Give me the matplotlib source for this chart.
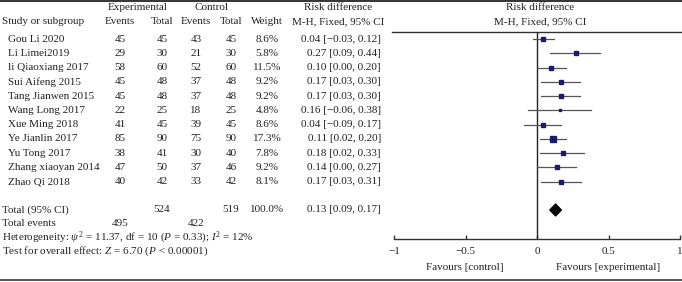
import matplotlib as mpl
import matplotlib.pyplot as plt
from matplotlib.patches import Polygon

mpl.rcParams['font.family'] = ['Liberation Serif', 'DejaVu Serif']
mpl.rcParams['mathtext.fontset'] = 'custom'
mpl.rcParams['mathtext.rm'] = 'Liberation Serif'
mpl.rcParams['mathtext.it'] = 'Liberation Serif:italic'

studies = ['Gou Li 2020', 'Li Limei2019', 'li Qiaoxiang 2017', 'Sui Aifeng 2015',
           'Tang Jianwen 2015', 'Wang Long 2017', 'Xue Ming 2018', 'Ye Jianlin 2017',
           'Yu Tong 2017', 'Zhang xiaoyan 2014', 'Zhao Qi 2018']
exp_events = [45, 29, 58, 45, 45, 22, 41, 85, 38, 47, 40]
exp_total = [45, 30, 60, 48, 48, 25, 45, 90, 41, 50, 42]
ctl_events = [43, 21, 52, 37, 37, 18, 39, 75, 30, 37, 33]
ctl_total = [45, 30, 60, 48, 48, 25, 45, 90, 40, 46, 42]
weights = [8.6, 5.8, 11.5, 9.2, 9.2, 4.8, 8.6, 17.3, 7.8, 9.2, 8.1]
rd = [0.04, 0.27, 0.10, 0.17, 0.17, 0.16, 0.04, 0.11, 0.18, 0.14, 0.17]
rd_lo = [-0.03, 0.09, 0.00, 0.03, 0.03, -0.06, -0.09, 0.02, 0.02, 0.00, 0.03]
rd_hi = [0.12, 0.44, 0.20, 0.30, 0.30, 0.38, 0.17, 0.20, 0.33, 0.27, 0.31]
total_rd, total_lo, total_hi = 0.13, 0.09, 0.17
tot_exp, tot_ctl = 524, 519
tot_exp_ev, tot_ctl_ev = 495, 422
xticks = [-1, -0.5, 0, 0.5, 1]
xticklabels = ['\u22121', '\u22120.5', '0', '0.5', '1']

W, H = 682, 282
fig = plt.figure(figsize=(W / 100, H / 100), dpi=100)
bg = fig.add_axes([0, 0, 1, 1])
bg.set_xlim(0, W)
bg.set_ylim(H, 0)
bg.axis('off')

fs = 8
tc = '#222222'

def txt(x, y, s, ha='center'):
    bg.text(x, y, s, ha=ha, va='center', fontsize=fs, color=tc)

# rules
bg.plot([0, W], [1.2, 1.2], color='#333333', lw=1.4)
bg.plot([0, W], [280, 280], color='#555555', lw=1.4)
bg.plot([392, W], [32, 32], color='#333333', lw=1.0)

# headers
txt(138, 8, 'Experimental')
txt(212, 8, 'Control')
txt(338, 8, 'Risk difference')
txt(540, 8, 'Risk difference')
txt(2, 22, 'Study or subgroup', ha='left')
txt(120, 22, 'Events')
txt(162, 22, 'Total')
txt(196, 22, 'Events')
txt(231, 22, 'Total')
txt(267, 22, 'Weight')
txt(338, 22, 'M-H, Fixed, 95% CI')
txt(540, 22, 'M-H, Fixed, 95% CI')

def fmt(v):
    return ('%.2f' % v).replace('-', '\u2212')

y0, step = 39, 14.27
rows = [y0 + i * step for i in range(len(studies))]
for i, y in enumerate(rows):
    txt(8, y, studies[i], ha='left')
    txt(120, y, str(exp_events[i]))
    txt(162, y, str(exp_total[i]))
    txt(196, y, str(ctl_events[i]))
    txt(231, y, str(ctl_total[i]))
    txt(267, y, '%.1f%%' % weights[i])
    txt(381, y, '%s [%s, %s]' % (fmt(rd[i]), fmt(rd_lo[i]), fmt(rd_hi[i])), ha='right')

yt = 210
txt(2, yt, 'Total (95% CI)', ha='left')
txt(162, yt, str(tot_exp))
txt(231, yt, str(tot_ctl))
txt(267, yt, '100.0%')
txt(381, yt, '%s [%s, %s]' % (fmt(total_rd), fmt(total_lo), fmt(total_hi)), ha='right')
txt(2, 223.5, 'Total events', ha='left')
txt(120, 223.5, str(tot_exp_ev))
txt(196, 223.5, str(tot_ctl_ev))
txt(2, 237.5, r'Heterogeneity: $\psi^2$ = 11.37, df = 10 ($P$ = 0.33); $I^2$ = 12%', ha='left')
txt(2, 251, r'Test for overall effect: $Z$ = 6.70 ($P$ < 0.00001)', ha='left')
txt(465, 268, 'Favours [control]')
txt(608, 268, 'Favours [experimental]')

# forest panel
ax_y0, ax_y1 = 239, 32
ax = fig.add_axes([394 / W, (H - ax_y0) / H, (680 - 394) / W, (ax_y0 - ax_y1) / H])
ax.set_xlim(-1, 1)
ax.set_ylim(ax_y0, ax_y1)
ax.patch.set_alpha(0)
for s in ['top', 'left', 'right']:
    ax.spines[s].set_visible(False)
ax.spines['bottom'].set_color('#333333')
ax.spines['bottom'].set_linewidth(1.0)
ax.set_yticks([])
ax.set_xticks(xticks)
ax.set_xticklabels(xticklabels)
ax.tick_params(axis='x', direction='in', length=3, width=1.0, color='#333333',
               labelsize=fs, labelcolor=tc, pad=6)
ax.axvline(0, color='#222222', lw=1.0)

for i, y in enumerate(rows):
    ax.plot([rd_lo[i], rd_hi[i]], [y, y], color='#555555', lw=0.9)
    side = 1.3 * weights[i] ** 0.5
    ax.plot(rd[i], y, marker='s', markersize=side * 0.72, color='#1b1b6b', mec='#1b1b6b')

ax.add_patch(Polygon([(total_lo, yt), (total_rd, yt - 6), (total_hi, yt), (total_rd, yt + 6)],
                     closed=True, color='black'))

fig.savefig('out.png', dpi=100)
